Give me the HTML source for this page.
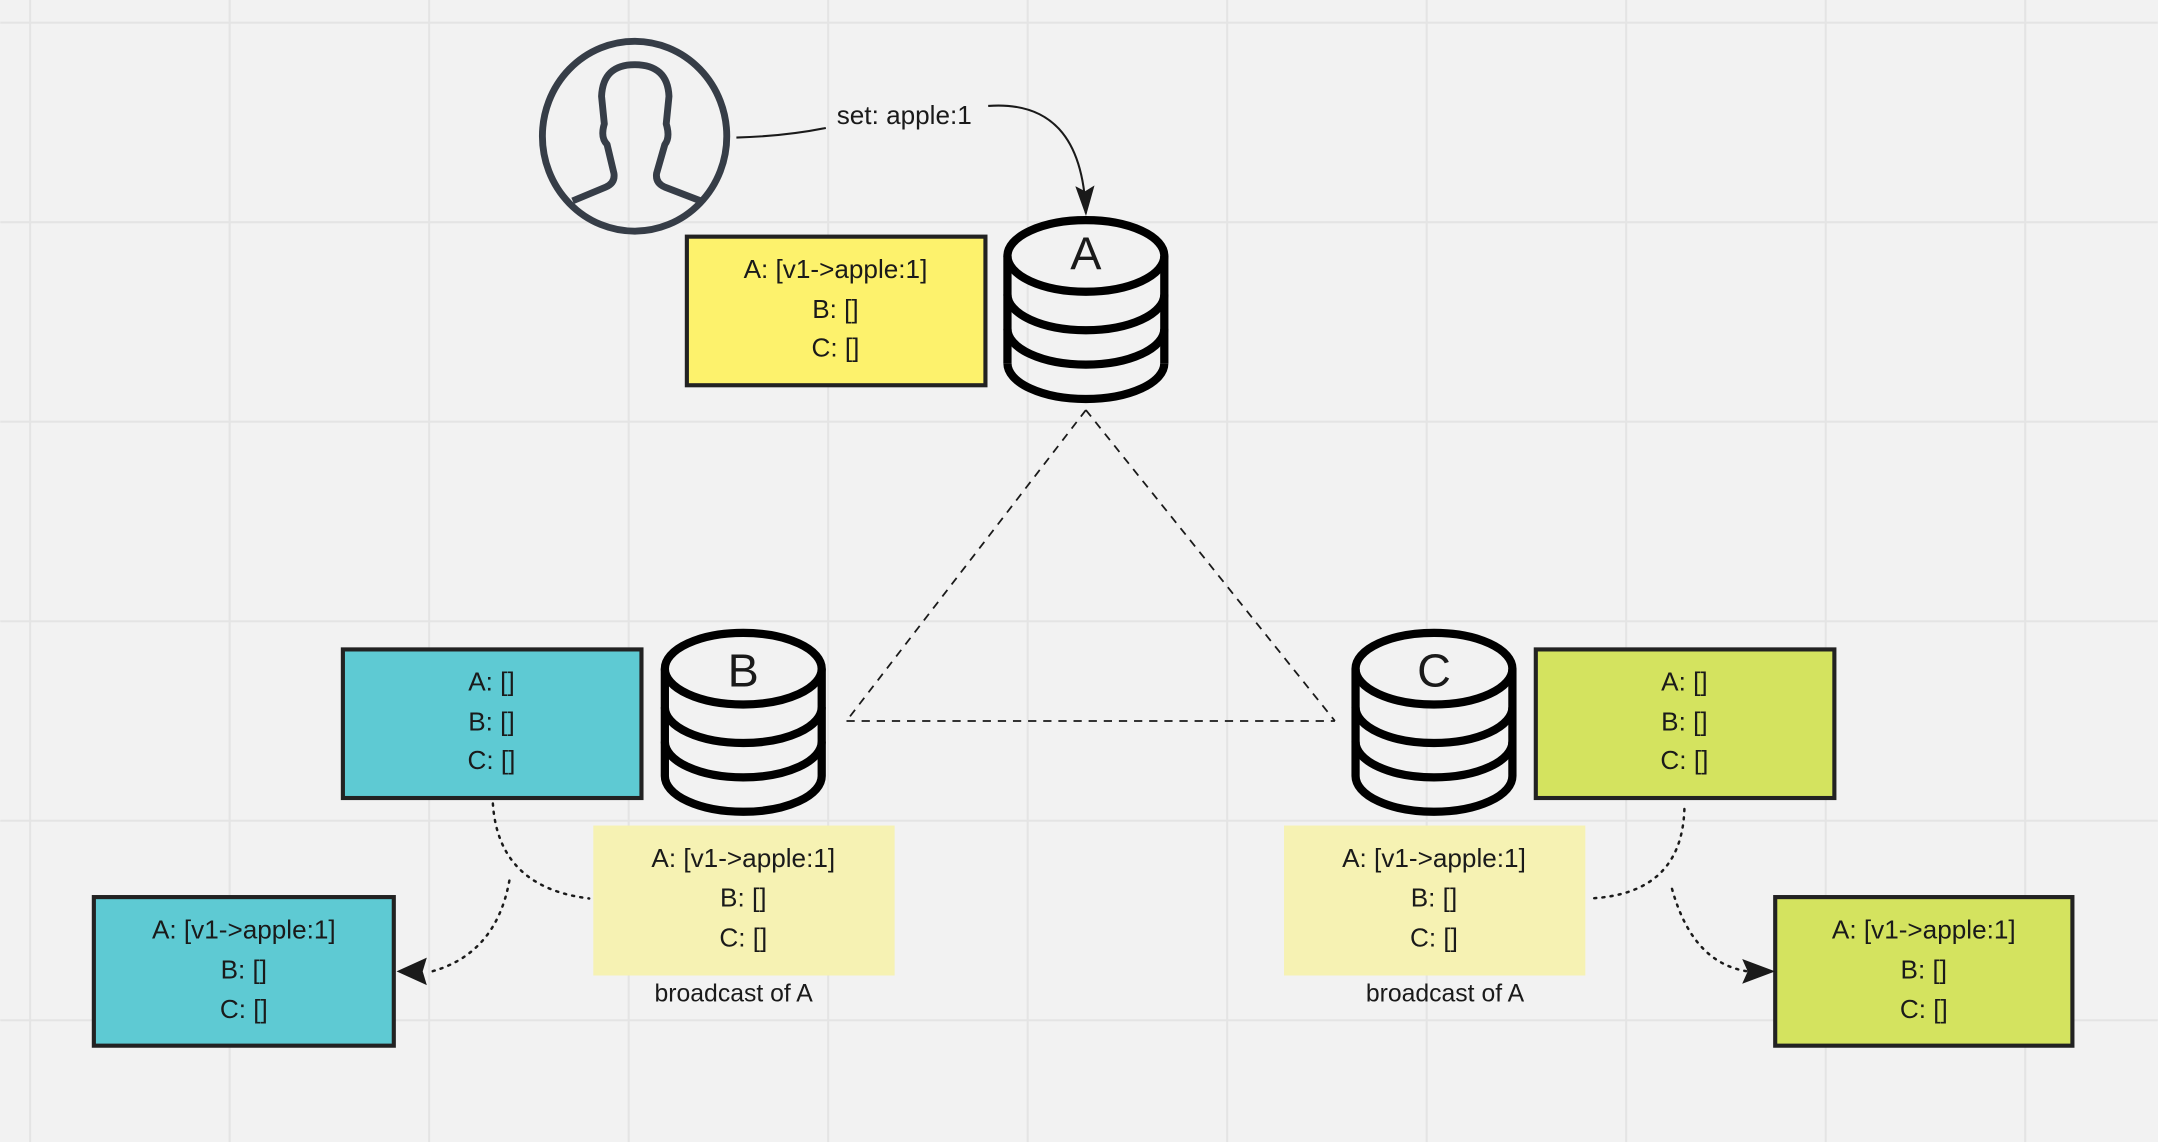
<!DOCTYPE html>
<html><head><meta charset="utf-8"><style>
html,body{margin:0;padding:0;background:#f2f2f2;}
svg{display:block;}
text{font-family:"Liberation Sans",sans-serif;fill:#1a1a1a;}
</style></head><body>
<svg width="2158" height="1142" viewBox="0 0 1568 830" xmlns="http://www.w3.org/2000/svg">
<defs>
<marker id="ar" markerWidth="10" markerHeight="10" refX="9" refY="5" orient="auto" markerUnits="userSpaceOnUse"><path d="M0,0 L10,5 L0,10 Z" fill="#1a1a1a"/></marker>
<marker id="ar2" markerWidth="22" markerHeight="14" refX="20" refY="7" orient="auto" markerUnits="userSpaceOnUse"><path d="M0,0 L22,7 L0,14 L4,7 Z" fill="#1a1a1a"/></marker>
<g id="db">
<ellipse cx="0" cy="26" rx="57" ry="26" fill="#f2f2f2" stroke="#000" stroke-width="6"/>
<path d="M-57,26 L-57,104 M57,26 L57,104" stroke="#000" stroke-width="6" fill="none"/>
<path d="M-57,54 A57,26 0 0 0 57,54 M-57,79 A57,26 0 0 0 57,79 M-57,104 A57,26 0 0 0 57,104" stroke="#000" stroke-width="6" fill="none"/>
</g>
</defs>
<rect width="1568" height="830" fill="#f2f2f2"/>
<g stroke="#e4e4e4" stroke-width="1.5">
<line x1="21.7" y1="0" x2="21.7" y2="830"/><line x1="166.7" y1="0" x2="166.7" y2="830"/><line x1="311.7" y1="0" x2="311.7" y2="830"/><line x1="456.7" y1="0" x2="456.7" y2="830"/><line x1="601.7" y1="0" x2="601.7" y2="830"/><line x1="746.7" y1="0" x2="746.7" y2="830"/><line x1="891.7" y1="0" x2="891.7" y2="830"/><line x1="1036.7" y1="0" x2="1036.7" y2="830"/><line x1="1181.7" y1="0" x2="1181.7" y2="830"/><line x1="1326.7" y1="0" x2="1326.7" y2="830"/><line x1="1471.7" y1="0" x2="1471.7" y2="830"/>
<line x1="0" y1="16.5" x2="1568" y2="16.5"/><line x1="0" y1="161.5" x2="1568" y2="161.5"/><line x1="0" y1="306.5" x2="1568" y2="306.5"/><line x1="0" y1="451.5" x2="1568" y2="451.5"/><line x1="0" y1="596.5" x2="1568" y2="596.5"/><line x1="0" y1="741.5" x2="1568" y2="741.5"/>
</g>
<!-- person -->
<ellipse cx="461" cy="99" rx="67" ry="69" fill="none" stroke="#363d47" stroke-width="5"/>
<path d="M416,146 L440,136 Q447,133 446,126 L441,105 Q436,100 439,90 L437,70 Q438,47 461,47 Q485,47 486,70 L484,90 Q487,100 483,105 L477,126 Q476,133 483,136 L509,146" fill="none" stroke="#363d47" stroke-width="5" stroke-linejoin="round"/>
<path d="M535,100 Q570,99 600,93" fill="none" stroke="#1a1a1a" stroke-width="1.5"/>
<text x="657" y="90" font-size="19" text-anchor="middle">set: apple:1</text>
<path d="M718,77 Q786,72 789,155" fill="none" stroke="#1a1a1a" stroke-width="1.5" marker-end="url(#ar2)"/>
<!-- A -->
<rect x="499" y="172" width="217" height="108" fill="#fdf26c" stroke="#222" stroke-width="3"/>
<text font-size="19" text-anchor="middle"><tspan x="607" y="202">A: [v1-&gt;apple:1]</tspan><tspan x="607" y="231">B: []</tspan><tspan x="607" y="259">C: []</tspan></text>
<use href="#db" x="789" y="160"/>
<text x="789" y="196" font-size="34" text-anchor="middle">A</text>
<!-- triangle -->
<g stroke="#1a1a1a" stroke-width="1.3" stroke-dasharray="6,5" fill="none">
<line x1="789" y1="298" x2="615" y2="524"/><line x1="789" y1="298" x2="970" y2="524"/><line x1="615" y1="524" x2="970" y2="524"/>
</g>
<!-- B -->
<rect x="249" y="472" width="217" height="108" fill="#5ecad3" stroke="#222" stroke-width="3"/>
<text font-size="19" text-anchor="middle"><tspan x="357" y="502">A: []</tspan><tspan x="357" y="531">B: []</tspan><tspan x="357" y="559">C: []</tspan></text>
<use href="#db" x="540" y="460"/>
<text x="540" y="499" font-size="34" text-anchor="middle">B</text>
<!-- C -->
<rect x="1116" y="472" width="217" height="108" fill="#d4e35f" stroke="#222" stroke-width="3"/>
<text font-size="19" text-anchor="middle"><tspan x="1224" y="502">A: []</tspan><tspan x="1224" y="531">B: []</tspan><tspan x="1224" y="559">C: []</tspan></text>
<use href="#db" x="1042" y="460"/>
<text x="1042" y="499" font-size="34" text-anchor="middle">C</text>
<!-- broadcasts -->
<rect x="431" y="600" width="219" height="109" fill="#f6f2b3"/>
<text font-size="19" text-anchor="middle"><tspan x="540" y="630">A: [v1-&gt;apple:1]</tspan><tspan x="540" y="659">B: []</tspan><tspan x="540" y="688">C: []</tspan></text>
<text x="533" y="728" font-size="18" text-anchor="middle">broadcast of A</text>
<rect x="933" y="600" width="219" height="109" fill="#f6f2b3"/>
<text font-size="19" text-anchor="middle"><tspan x="1042" y="630">A: [v1-&gt;apple:1]</tspan><tspan x="1042" y="659">B: []</tspan><tspan x="1042" y="688">C: []</tspan></text>
<text x="1050" y="728" font-size="18" text-anchor="middle">broadcast of A</text>
<!-- bottom boxes -->
<rect x="68" y="652" width="218" height="108" fill="#5ecad3" stroke="#222" stroke-width="3"/>
<text font-size="19" text-anchor="middle"><tspan x="177" y="682">A: [v1-&gt;apple:1]</tspan><tspan x="177" y="711">B: []</tspan><tspan x="177" y="740">C: []</tspan></text>
<rect x="1290" y="652" width="216" height="108" fill="#d4e35f" stroke="#222" stroke-width="3"/>
<text font-size="19" text-anchor="middle"><tspan x="1398" y="682">A: [v1-&gt;apple:1]</tspan><tspan x="1398" y="711">B: []</tspan><tspan x="1398" y="740">C: []</tspan></text>
<!-- dotted connectors -->
<g stroke="#1a1a1a" stroke-width="1.8" stroke-dasharray="1.5,4.5" fill="none" stroke-linecap="round">
<path d="M358,584 Q362,645 428,653"/>
<path d="M370,640 Q360,695 310,707"/>
<path d="M1224,588 Q1222,650 1155,653"/>
<path d="M1215,646 Q1230,700 1270,706"/>
</g>
<path d="M288,706 L310,696 L307,706 L310,716 Z" fill="#1a1a1a"/>
<path d="M1290,706 L1266,697 L1270,706 L1266,715 Z" fill="#1a1a1a"/>
</svg>
</body></html>
